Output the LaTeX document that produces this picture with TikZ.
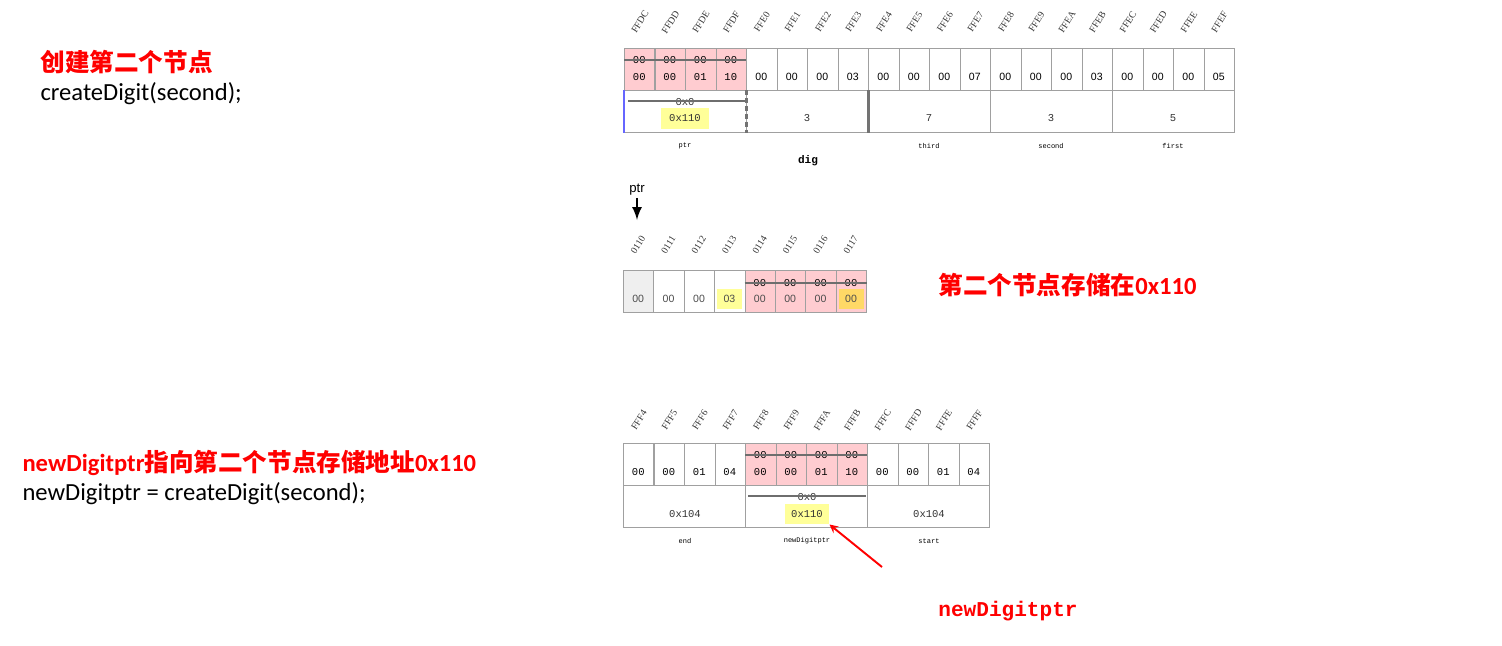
\documentclass[tikz,border=0pt]{standalone}
\usepackage{fontspec}
\setmainfont{Carlito}
\setsansfont{Liberation Sans}
\setmonofont{Liberation Mono}
\newfontfamily\cjk{Noto Sans CJK SC}
\newfontfamily\addrfont{Liberation Serif}
\usetikzlibrary{arrows}
\definecolor{cellline}{HTML}{A0A0A0}
\definecolor{strike}{HTML}{6E6E6E}
\definecolor{nodepink}{HTML}{FFCCD0}
\definecolor{hlyellow}{HTML}{FFFF99}
\definecolor{hlorange}{HTML}{FFD966}
\definecolor{hlgray}{HTML}{EFEFEF}
\newcommand{\zh}[1]{{\cjk #1}}

\begin{document}
\begin{tikzpicture}[x=0.02cm, y=-0.02cm, semithick]
  \tikzstyle{cell}=[draw=cellline, thin, shape=rectangle, anchor=north west,
                    minimum width=0.61cm, minimum height=0.84cm, inner sep=0pt]
  \tikzstyle{group}=[cell, minimum width=2.44cm]
  \tikzstyle{addr}=[font=\addrfont\fontsize{5.5}{6}\selectfont, rotate=58, inner sep=0pt, text=black!80]
  \tikzstyle{val}=[font=\sffamily\fontsize{6}{7}\selectfont, inner sep=0pt]
  \tikzstyle{oldval}=[font=\ttfamily\fontsize{6}{7}\selectfont, inner sep=0pt]
  \tikzstyle{gval}=[font=\ttfamily\fontsize{6}{7}\selectfont, inner sep=0pt, text=black!80]
  \tikzstyle{tag}=[font=\ttfamily\fontsize{4}{5}\selectfont, inner sep=0pt]
  \tikzstyle{strikeline}=[draw=strike, line width=1pt]
  \tikzstyle{say}=[anchor=base west, inner sep=0pt, font=\fontsize{14}{16}\selectfont]
  \tikzstyle{sayred}=[say, text=red, font=\bfseries\fontsize{14}{16}\selectfont]
\useasboundingbox (0,0) rectangle (1502,646);

% left side text
\node[sayred] (step1) at (40,71) {\zh{创建第二个节点}};
\node[say] (code1) at (40,100) {createDigit(second);};
\node[sayred] (step2) at (22,471) {newDigitptr\zh{指向第二个节点存储地址}0x110};
\node[say] (code2) at (22,500) {newDigitptr = createDigit(second);};

% stack: dig[]
\begin{scope}
\foreach \a [count=\i from 0] in {FFDC,FFDD,FFDE,FFDF,FFE0,FFE1,FFE2,FFE3,FFE4,FFE5,
                                   FFE6,FFE7,FFE8,FFE9,FFEA,FFEB,FFEC,FFED,FFEE,FFEF}
  \node[addr] (da\i) at ({640+30.5*\i},22) {\a};
\foreach \v [count=\i from 0] in {00,00,01,10}{
  \node[cell, fill=nodepink] (dc\i) at ({624+30.5*\i},48) {};
  \node[oldval] (do\i) at ({639.25+30.5*\i},60) {00};
  \draw[strikeline] (dc\i.west |- do\i) -- (dc\i.east |- do\i);
  \node[oldval] (dv\i) at ({639.25+30.5*\i},77) {\v};
}
\foreach \v [count=\i from 4] in {00,00,00,03,00,00,00,07,00,00,00,03,00,00,00,05}{
  \node[cell] (dc\i) at ({624+30.5*\i},48) {};
  \node[val] (dv\i) at ({639.25+30.5*\i},77) {\v};
}
\node[group] (gptr) at (624,90) {};
\node[group] (gdig) at (746,90) {};
\node[group] (gthird) at (868,90) {};
\node[group] (gsecond) at (990,90) {};
\node[group] (gfirst) at (1112,90) {};
\node[gval] (gptrold) at (685,102) {0x0};
\draw[strikeline] (628,101) -- (746,101);
\node[gval, fill=hlyellow, minimum width=0.96cm, minimum height=0.42cm] (gptrval) at (685,118.5) {0x110};
\node[gval] (gdigval) at (807,118) {3};
\node[gval] (gthirdval) at (929,118) {7};
\node[gval] (gsecondval) at (1051,118) {3};
\node[gval] (gfirstval) at (1173,118) {5};
\draw[blue!60, thick] (gptr.north west) -- (gptr.south west);
\draw[black!55, line width=1.7pt, dash pattern=on 2.8pt off 1.7pt] (gptr.north east) -- (gptr.south east);
\draw[black!55, line width=1.7pt] (gdig.north east) -- (gdig.south east);
\node[tag] (lptr) at (685,146) {ptr};
\node[tag] (lthird) at (929,146) {third};
\node[tag] (lsecond) at (1051,146) {second};
\node[tag] (lfirst) at (1173,146) {first};
\node[font=\ttfamily\bfseries\fontsize{6.3}{7}\selectfont, inner sep=0pt] (ldig) at (808,161) {dig};
\end{scope}

% heap: second node at 0x110
\begin{scope}
\node[font=\sffamily\fontsize{7.5}{8}\selectfont, inner sep=1pt] (ptrlbl) at (637,190) {ptr};
\coordinate (ptrtip) at (637,220);
\draw[-latex, line width=1.5pt] (ptrlbl.south) -- (ptrtip);
\foreach \a [count=\i from 0] in {0110,0111,0112,0113,0114,0115,0116,0117}
  \node[addr] (ha\i) at ({638+30.4*\i},245) {\a};
\foreach \v/\f/\h [count=\i from 0] in {00/hlgray/none,00/white/none,00/white/none,03/white/hlyellow}{
  \node[cell, fill=\f] (hc\i) at ({623+30.4*\i},270) {};
  \node[val, fill=\h, minimum width=0.5cm, minimum height=0.4cm, text=black!70] (hv\i) at ({638.2+30.4*\i},299) {\v};
}
\foreach \h [count=\i from 4] in {none,none,none,hlorange}{
  \node[cell, fill=nodepink] (hc\i) at ({623+30.4*\i},270) {};
  \node[oldval] (ho\i) at ({638.2+30.4*\i},283) {00};
  \draw[strikeline] (hc\i.west |- ho\i) -- (hc\i.east |- ho\i);
  \node[val, fill=\h, minimum width=0.5cm, minimum height=0.4cm, text=black!70] (hv\i) at ({638.2+30.4*\i},299) {00};
}
\node[sayred] (stored) at (938,294) {\zh{第二个节点存储在}0x110};
\end{scope}

% stack: newDigitptr
\begin{scope}
\foreach \a [count=\i from 0] in {FFF4,FFF5,FFF6,FFF7,FFF8,FFF9,FFFA,FFFB,FFFC,FFFD,FFFE,FFFF}
  \node[addr] (sa\i) at ({639+30.5*\i},420) {\a};
\foreach \v [count=\i from 0] in {00,00,01,04}{
  \node[cell] (sc\i) at ({623+30.5*\i},443) {};
  \node[oldval] (sv\i) at ({638.25+30.5*\i},472) {\v};
}
\foreach \v [count=\i from 4] in {00,00,01,10}{
  \node[cell, fill=nodepink] (sc\i) at ({623+30.5*\i},443) {};
  \node[oldval] (so\i) at ({638.25+30.5*\i},455) {00};
  \draw[strikeline] (sc\i.west |- so\i) -- (sc\i.east |- so\i);
  \node[oldval] (sv\i) at ({638.25+30.5*\i},472) {\v};
}
\foreach \v [count=\i from 8] in {00,00,01,04}{
  \node[cell] (sc\i) at ({623+30.5*\i},443) {};
  \node[oldval] (sv\i) at ({638.25+30.5*\i},472) {\v};
}
\node[group] (send) at (623,485) {};
\node[group] (snew) at (745,485) {};
\node[group] (sstart) at (867,485) {};
\node[gval] (sendval) at (685,514) {0x104};
\node[gval] (snewold) at (807,497) {0x0};
\draw[strikeline] (748,496) -- (866,496);
\node[gval, fill=hlyellow, minimum width=0.88cm, minimum height=0.4cm] (snewval) at (807,514) {0x110};
\node[gval] (sstartval) at (929,514) {0x104};
\node[tag] (lend) at (685,541) {end};
\node[tag] (lnew) at (807,541) {newDigitptr};
\node[tag] (lstart) at (929,541) {start};
\coordinate (arrtail) at (882,567);
\draw[-stealth, red, line width=1.1pt] (arrtail) -- (snewval.south east);
\node[text=red, font=\ttfamily\bfseries\fontsize{12}{14}\selectfont, inner sep=0pt] (newlbl) at (1008,611) {newDigitptr};
\end{scope}
\end{tikzpicture}
\end{document}
